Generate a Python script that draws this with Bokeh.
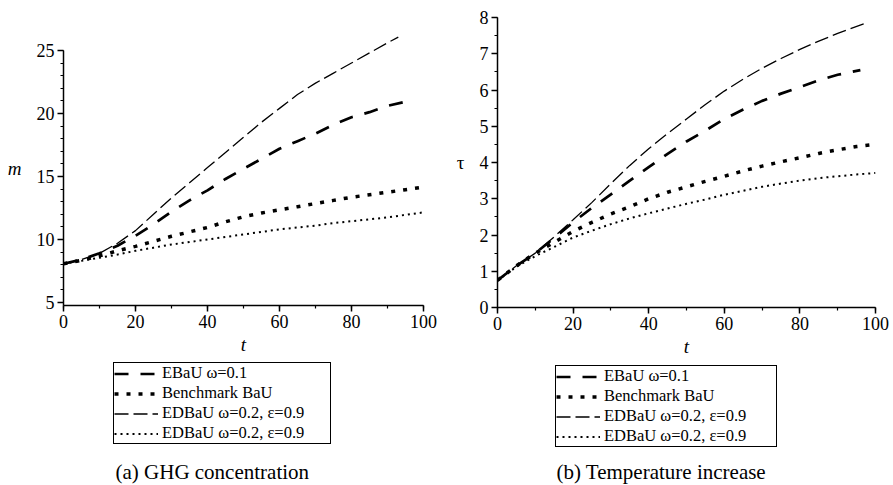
from bokeh.plotting import figure
from bokeh.layouts import row, column
from bokeh.models import Range1d, Legend, LegendItem, Title, SingleIntervalTicker
from bokeh.embed import file_html
from bokeh.resources import INLINE

SERIF = "Liberation Serif"

legend_labels = ["EBaU ω=0.1", "Benchmark BaU", "EDBaU ω=0.2, ε=0.9", "EDBaU ω=0.2, ε=0.9"]

# ---- (a) GHG concentration m(t) ----
t_ghg_ebau = [0, 5, 10, 15, 20, 25, 30, 35, 40, 45, 50, 55, 60, 65, 70, 75, 80, 85, 90, 97]
m_ebau = [8.07, 8.4, 8.9, 9.5, 10.3, 11.2, 12.2, 13.1, 13.9, 14.8, 15.6, 16.4, 17.2, 17.8, 18.4, 19.1, 19.7, 20.1, 20.6, 21.05]

t_ghg_bench = [0, 5, 10, 15, 20, 25, 30, 35, 40, 45, 50, 55, 60, 65, 70, 75, 80, 85, 90, 95, 100]
m_bench = [8.07, 8.35, 8.7, 9.1, 9.45, 9.85, 10.25, 10.6, 10.95, 11.4, 11.8, 12.1, 12.35, 12.6, 12.85, 13.1, 13.35, 13.55, 13.75, 13.95, 14.15]

t_ghg_edbau = [0, 5, 10, 15, 20, 25, 30, 35, 40, 45, 50, 55, 60, 65, 70, 75, 80, 85, 90, 93]
m_edbau = [8.07, 8.4, 8.9, 9.7, 10.7, 12.0, 13.3, 14.5, 15.7, 16.9, 18.1, 19.3, 20.4, 21.5, 22.4, 23.2, 24.0, 24.8, 25.6, 26.05]

t_ghg_edbau2 = [0, 5, 10, 15, 20, 25, 30, 35, 40, 45, 50, 55, 60, 65, 70, 75, 80, 85, 90, 95, 100]
m_edbau2 = [8.07, 8.3, 8.55, 8.8, 9.1, 9.35, 9.6, 9.8, 10.0, 10.2, 10.4, 10.6, 10.8, 10.95, 11.1, 11.3, 11.45, 11.6, 11.75, 11.95, 12.15]

# ---- (b) Temperature increase tau(t) ----
t_tmp_ebau = [0, 5, 10, 15, 20, 25, 30, 35, 40, 45, 50, 55, 60, 65, 70, 75, 80, 85, 90, 96]
tau_ebau = [0.75, 1.15, 1.5, 1.92, 2.35, 2.75, 3.12, 3.5, 3.87, 4.24, 4.58, 4.88, 5.2, 5.46, 5.7, 5.9, 6.08, 6.27, 6.42, 6.55]

t_tmp_bench = [0, 5, 10, 15, 20, 25, 30, 35, 40, 45, 50, 55, 60, 65, 70, 75, 80, 85, 90, 95, 100]
tau_bench = [0.75, 1.15, 1.5, 1.8, 2.1, 2.35, 2.58, 2.78, 3.0, 3.18, 3.33, 3.48, 3.62, 3.77, 3.9, 4.02, 4.13, 4.25, 4.35, 4.44, 4.5]

t_tmp_edbau = [0, 5, 10, 15, 20, 25, 30, 35, 40, 45, 50, 55, 60, 65, 70, 75, 80, 85, 90, 97]
tau_edbau = [0.75, 1.15, 1.5, 1.95, 2.42, 2.9, 3.42, 3.92, 4.38, 4.8, 5.2, 5.6, 5.97, 6.3, 6.6, 6.87, 7.12, 7.35, 7.56, 7.83]

t_tmp_edbau2 = [0, 5, 10, 15, 20, 25, 30, 35, 40, 45, 50, 55, 60, 65, 70, 75, 80, 85, 90, 95, 100]
tau_edbau2 = [0.75, 1.12, 1.42, 1.67, 1.93, 2.12, 2.3, 2.46, 2.6, 2.73, 2.86, 2.98, 3.11, 3.22, 3.33, 3.42, 3.5, 3.57, 3.62, 3.67, 3.71]

STYLES = [
    dict(line_width=2.7, line_dash="14 12"),   # EBaU thick dash
    dict(line_width=3.5, line_dash="4 8"),     # Benchmark thick dots
    dict(line_width=1.3, line_dash="14 5"),    # EDBaU thin long dash
    dict(line_width=2.0, line_dash="2 4"),     # EDBaU thin dots
]


def make_plot(series, y_range, y_bounds, y_interval, y_minor, y_label, y_label_style,
              width, height, b_left, b_top, b_right, b_bottom):
    p = figure(width=width, height=height,
               x_range=Range1d(0, 100), y_range=Range1d(*y_range),
               output_backend="svg", toolbar_location=None,
               min_border_left=b_left, min_border_top=b_top,
               min_border_right=b_right, min_border_bottom=b_bottom)
    p.outline_line_color = None
    p.xgrid.visible = False
    p.ygrid.visible = False

    for (tx, ty), st in zip(series, STYLES):
        p.line(tx, ty, line_color="black", line_cap="butt", **st)

    p.xaxis.ticker = SingleIntervalTicker(interval=20, num_minor_ticks=2)
    p.yaxis.ticker = SingleIntervalTicker(interval=y_interval, num_minor_ticks=y_minor)
    p.xaxis.bounds = (0, 100)
    p.yaxis.bounds = y_bounds
    for ax in (p.xaxis[0], p.yaxis[0]):
        ax.axis_line_width = 1.5
        ax.axis_line_color = "black"
        ax.major_tick_line_color = "black"
        ax.minor_tick_line_color = "black"
        ax.major_tick_line_width = 1.5
        ax.minor_tick_line_width = 1.2
        ax.major_tick_out = 6
        ax.major_tick_in = 0
        ax.minor_tick_out = 3
        ax.minor_tick_in = 0
        ax.major_label_text_font = SERIF
        ax.major_label_text_font_size = "18px"
        ax.major_label_text_color = "black"
        ax.axis_label_text_font = SERIF
        ax.axis_label_text_font_size = "19px"
        ax.axis_label_text_color = "black"
        ax.major_label_standoff = 3
    p.xaxis.axis_label = "t"
    p.xaxis.axis_label_text_font_style = "italic"
    p.xaxis.axis_label_standoff = 3
    p.yaxis.axis_label = y_label
    p.yaxis.axis_label_text_font_style = y_label_style
    p.yaxis.axis_label_orientation = "horizontal"
    p.yaxis.axis_label_standoff = 12
    return p


def make_legend_box(series, width, height, leg_loc, label_w, caption, cap_off):
    q = figure(width=width, height=height, x_range=Range1d(0, 100), y_range=Range1d(0, 30),
               output_backend="svg", toolbar_location=None,
               x_axis_type=None, y_axis_type=None,
               min_border_left=0, min_border_right=0, min_border_top=0, min_border_bottom=30)
    q.outline_line_color = None
    q.xgrid.visible = False
    q.ygrid.visible = False
    rs = []
    for (tx, ty), st in zip(series, STYLES):
        rs.append(q.line(tx, ty, line_color="black", line_cap="butt", visible=False, **st))
    items = [LegendItem(label=lab, renderers=[r]) for lab, r in zip(legend_labels, rs)]
    leg = Legend(items=items, location=leg_loc, orientation="vertical",
                 label_text_font=SERIF, label_text_font_size="16.5px", label_text_color="black",
                 glyph_width=44, glyph_height=19, label_height=19, label_width=label_w,
                 spacing=0, padding=0, margin=0, label_standoff=4,
                 border_line_color="black", border_line_width=1.8, border_line_alpha=1.0,
                 background_fill_color="white", background_fill_alpha=1.0,
                 inactive_fill_alpha=0.0)
    q.add_layout(leg, "center")
    cap = Title(text=caption, align="left", offset=cap_off, text_font=SERIF,
                text_font_size="21px", text_font_style="normal", text_color="black",
                standoff=4)
    q.add_layout(cap, "below")
    return q


ghg_series = [(t_ghg_ebau, m_ebau), (t_ghg_bench, m_bench), (t_ghg_edbau, m_edbau), (t_ghg_edbau2, m_edbau2)]
tmp_series = [(t_tmp_ebau, tau_ebau), (t_tmp_bench, tau_bench), (t_tmp_edbau, tau_edbau), (t_tmp_edbau2, tau_edbau2)]

p1 = make_plot(ghg_series, y_range=(4.76, 26.5), y_bounds=(4.76, 25), y_interval=5, y_minor=5,
               y_label="m", y_label_style="italic",
               width=446, height=362, b_left=63, b_top=31, b_right=23, b_bottom=57)
l1 = make_legend_box(ghg_series, width=446, height=123, leg_loc=(50, 11), label_w=168,
                     caption="(a) GHG concentration", cap_off=52)

p2 = make_plot(tmp_series, y_range=(0, 8), y_bounds=(0, 8), y_interval=1, y_minor=2,
               y_label="τ", y_label_style="normal",
               width=447, height=364, b_left=51, b_top=17, b_right=18, b_bottom=57)
l2 = make_legend_box(tmp_series, width=447, height=121, leg_loc=(58, 8), label_w=172,
                     caption="(b) Temperature increase", cap_off=59)

layout = row(column(p1, l1), column(p2, l2))
open("out.html", "w").write(file_html(layout, INLINE))
